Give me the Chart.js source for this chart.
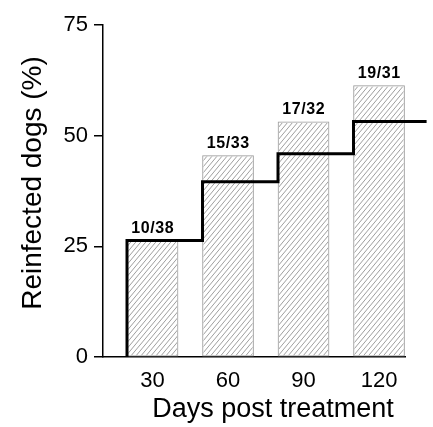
<!DOCTYPE html>
<html>
<head>
<meta charset="utf-8">
<script src="https://cdn.jsdelivr.net/npm/chart.js@4/dist/chart.umd.min.js"></script>
<style>
  html, body { margin: 0; padding: 0; background: #fff; }
  #wrap { width: 433px; height: 427px; position: relative; }
</style>
</head>
<body>
<div id="wrap"><canvas id="c" width="433" height="427"></canvas></div>
<script>
// ---- data ----
const categories = ['30', '60', '90', '120'];
const reinfectedPct = [26.3, 45.5, 53.1, 61.3];
const countLabels = ['10/38', '15/33', '17/32', '19/31'];
const stepValues = [26.3, 39.6, 45.9, 53.2];
const yTicks = [0, 25, 50, 75];
const xTitle = 'Days post treatment';
const yTitle = 'Reinfected dogs (%)';

// ---- layout constants ----
const HALF_BAR = 0.338;   // half bar width in category units
const LINE_END = 4.63;    // where the step line stops (category units)
const FONT = '"Liberation Sans", Arial, Helvetica, sans-serif';
const PAD = { top: 25, right: 28, left: 4, bottom: 2 };
const HATCH_STEP = 5;     // horizontal spacing of hatch lines (px)
const HATCH_SLOPE = 1.2;  // rise over run of hatch lines

const xPos = categories.map((c, i) => i + 1);

const barData = xPos.map((x, i) => ({ x: x, y: reinfectedPct[i] }));
const stepData = [{ x: xPos[0] - HALF_BAR, y: 0 }]
  .concat(stepValues.map((v, i) => ({ x: xPos[i] - HALF_BAR, y: v })))
  .concat([{ x: LINE_END, y: stepValues[stepValues.length - 1] }]);

// hatching inside each bar, drawn right after the bar dataset
const hatchPlugin = {
  id: 'hatch',
  afterDatasetDraw(chart, args) {
    if (args.index !== 1) return;
    const c = chart.ctx;
    args.meta.data.forEach((el) => {
      const p = el.getProps(['x', 'y', 'base', 'width'], true);
      const left = p.x - p.width / 2, right = p.x + p.width / 2;
      const top = Math.min(p.y, p.base), bottom = Math.max(p.y, p.base);
      c.save();
      c.beginPath();
      c.rect(left + 1, top + 1, right - left - 2, bottom - top - 2);
      c.clip();
      c.strokeStyle = '#858585';
      c.lineWidth = 0.8;
      c.beginPath();
      const H = bottom - top;
      const run = H / HATCH_SLOPE;
      for (let sx = left - run - HATCH_STEP; sx <= right + HATCH_STEP; sx += HATCH_STEP) {
        c.moveTo(sx, bottom);
        c.lineTo(sx + run, top);
      }
      c.stroke();
      c.restore();
    });
  }
};

const labelPlugin = {
  id: 'labels',
  afterDatasetsDraw(chart) {
    const meta = chart.getDatasetMeta(1);
    const c = chart.ctx;
    c.save();
    c.font = 'bold 16px ' + FONT;
    if ('letterSpacing' in c) c.letterSpacing = '0.6px';
    c.fillStyle = '#000';
    c.textAlign = 'center';
    c.textBaseline = 'alphabetic';
    meta.data.forEach((el, i) => {
      c.fillText(countLabels[i], el.x + 0.3, el.y - 8);
    });
    c.restore();
  },
  afterDraw(chart) {
    const c = chart.ctx;
    const area = chart.chartArea;
    c.save();
    c.fillStyle = '#000';
    c.textAlign = 'center';
    c.textBaseline = 'alphabetic';
    // x-axis title
    c.font = '27px ' + FONT;
    c.fillText(xTitle, area.left + 170, 417);
    // y-axis title
    c.font = '28px ' + FONT;
    c.translate(41, 183);
    c.rotate(-Math.PI / 2);
    c.fillText(yTitle, 0, 0);
    c.restore();
  }
};

const ctx = document.getElementById('c').getContext('2d');
new Chart(ctx, {
  data: {
    datasets: [
      {
        type: 'line',
        data: stepData,
        stepped: 'before',
        borderColor: '#000',
        borderWidth: 3,
        pointRadius: 0,
        fill: false,
        clip: false,
        order: 0
      },
      {
        type: 'bar',
        data: barData,
        backgroundColor: '#fff',
        borderColor: '#999',
        borderWidth: 1,
        borderSkipped: false,
        barThickness: 51,
        order: 1
      }
    ]
  },
  options: {
    responsive: false,
    animation: false,
    devicePixelRatio: 1,
    layout: { padding: PAD },
    plugins: { legend: { display: false }, tooltip: { enabled: false } },
    scales: {
      x: {
        type: 'linear',
        offset: false,
        min: 0.344,
        max: 4.344,
        afterBuildTicks(scale) { scale.ticks = xPos.map(v => ({ value: v })); },
        afterFit(scale) { scale.height = 427 - 357 - PAD.bottom; },
        ticks: {
          callback: (v) => categories[xPos.indexOf(v)] ?? '',
          color: '#000',
          font: { family: FONT, size: 22 },
          padding: 3,
          maxRotation: 0,
          autoSkip: false
        },
        grid: { display: false, offset: false },
        border: { display: true, color: '#000', width: 1.5 },
        title: { display: false }
      },
      y: {
        min: 0,
        max: 75,
        afterBuildTicks(scale) { scale.ticks = yTicks.map(v => ({ value: v })); },
        afterFit(scale) { scale.width = 103 - PAD.left; },
        ticks: {
          color: '#000',
          font: { family: FONT, size: 22 },
          padding: 6
        },
        grid: {
          drawOnChartArea: false,
          drawTicks: true,
          tickLength: 9,
          color: '#000',
          lineWidth: 1.5
        },
        border: { display: true, color: '#000', width: 1.5 },
        title: { display: false }
      }
    }
  },
  plugins: [hatchPlugin, labelPlugin]
});
</script>
</body>
</html>
